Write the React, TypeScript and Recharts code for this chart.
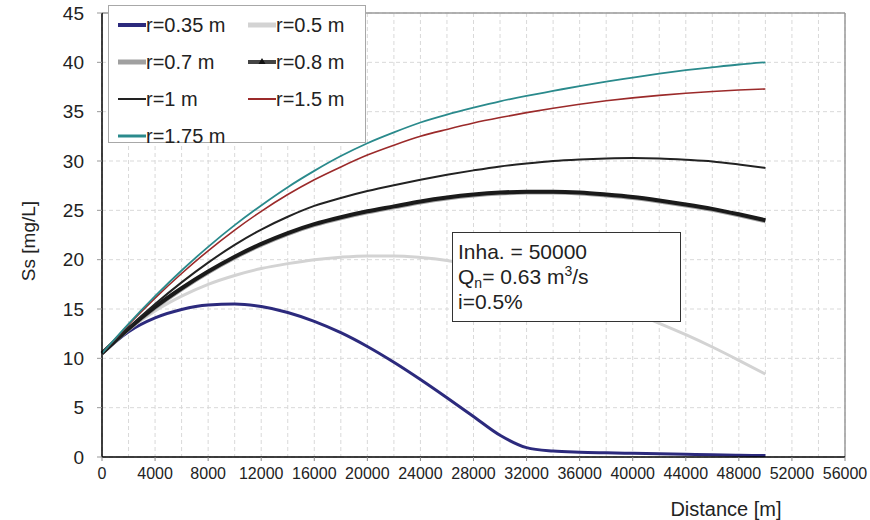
import React from "react";
import { LineChart, Line, XAxis, YAxis, CartesianGrid, ReferenceLine, Label } from "recharts";

const FONT = "'Liberation Sans', Arial, sans-serif";

// distance along the sewer [m]
const distance = [
  0, 2000, 4000, 6000, 8000, 10000, 12000, 14000, 16000, 18000, 20000, 22000, 24000,
  26000, 28000, 30000, 32000, 34000, 36000, 38000, 40000, 42000, 44000, 46000, 48000, 50000,
];

// suspended solids Ss [mg/L] per pipe radius
const ssR035 = [
  10.5, 12.7, 14.1, 14.95, 15.4, 15.5, 15.25, 14.65, 13.75, 12.6, 11.2, 9.6, 7.85,
  6.0, 4.1, 2.2, 0.95, 0.6, 0.48, 0.42, 0.37, 0.32, 0.27, 0.22, 0.18, 0.14,
];
const ssR05 = [
  10.5, 12.9, 14.8, 16.3, 17.5, 18.4, 19.1, 19.6, 20.0, 20.25, 20.38, 20.38, 20.22,
  19.92, 19.45, 18.85, 18.15, 17.4, 16.55, 15.65, 14.65, 13.55, 12.4, 11.15, 9.8, 8.4,
];
const ssR07 = [
  10.5, 12.95, 15.1, 17.0, 18.7, 20.2, 21.5, 22.6, 23.5, 24.2, 24.8, 25.3, 25.8,
  26.2, 26.5, 26.7, 26.8, 26.8, 26.7, 26.5, 26.25, 25.9, 25.5, 25.05, 24.5, 23.9,
];
const ssR08 = [
  10.5, 13.0, 15.2, 17.1, 18.8, 20.3, 21.6, 22.7, 23.6, 24.3, 24.9, 25.4, 25.9,
  26.3, 26.6, 26.8, 26.88, 26.88, 26.8, 26.6, 26.35, 26.0, 25.6, 25.15, 24.6, 24.0,
];
const ssR1 = [
  10.5, 13.1, 15.5, 17.7, 19.7, 21.5, 23.05, 24.35, 25.45, 26.25, 26.95, 27.55, 28.1,
  28.6, 29.05, 29.45, 29.75, 30.0, 30.15, 30.25, 30.3, 30.25, 30.12, 29.95, 29.65, 29.3,
];
const ssR15 = [
  10.5, 13.4, 16.1, 18.6, 20.9, 23.0, 24.9, 26.6, 28.1, 29.4, 30.6, 31.6, 32.5,
  33.2, 33.85, 34.4, 34.9, 35.35, 35.75, 36.1, 36.4, 36.65, 36.87, 37.05, 37.2, 37.3,
];
const ssR175 = [
  10.5, 13.5, 16.3, 18.9, 21.3, 23.5, 25.5, 27.35, 29.0, 30.5, 31.8, 32.9, 33.9,
  34.7, 35.4, 36.05, 36.6, 37.1, 37.6, 38.05, 38.45, 38.85, 39.2, 39.5, 39.78, 40.0,
];

const xTicks = [
  0, 2000, 4000, 6000, 8000, 10000, 12000, 14000, 16000, 18000, 20000, 22000, 24000, 26000,
  28000, 30000, 32000, 34000, 36000, 38000, 40000, 42000, 44000, 46000, 48000, 50000, 52000,
  54000, 56000,
];
const yTicks = [0, 5, 10, 15, 20, 25, 30, 35, 40, 45];

const series = [
  { key: "r035", name: "r=0.35 m", values: ssR035, color: "#2c2a7d", width: 3, legendWidth: 4 },
  { key: "r05", name: "r=0.5 m", values: ssR05, color: "#d3d3d3", width: 3, legendWidth: 5 },
  { key: "r07", name: "r=0.7 m", values: ssR07, color: "#a0a0a0", width: 4, legendWidth: 5 },
  { key: "r08", name: "r=0.8 m", values: ssR08, color: "#1a1a1a", width: 4, legendWidth: 4 },
  { key: "r1", name: "r=1 m", values: ssR1, color: "#222222", width: 2, legendWidth: 2 },
  { key: "r15", name: "r=1.5 m", values: ssR15, color: "#9b2a2a", width: 1.6, legendWidth: 2 },
  { key: "r175", name: "r=1.75 m", values: ssR175, color: "#2a8a8c", width: 1.8, legendWidth: 3 },
];

const rows = distance.map((d, i) => {
  const row: Record<string, number> = { d };
  series.forEach((s) => (row[s.key] = s.values[i]));
  return row;
});

function XTick({ x, y, payload }: any) {
  const v = payload.value;
  if (v % 4000 !== 0) return <g />;
  return (
    <g>
      <line x1={x} x2={x} y1={y} y2={y + 4} stroke="#888" />
      <text x={x} y={y + 22} textAnchor="middle" fontSize={16} fill="#222" fontFamily={FONT}>
        {v}
      </text>
    </g>
  );
}

function LegendBox() {
  return (
    <div
      style={{
        position: "absolute", left: 108, top: 5, width: 256, height: 136,
        background: "#fff", border: "1px solid #a8a8a8", fontFamily: FONT, fontSize: 20, color: "#222",
      }}
    >
      {series.map((s, i) => {
        const col = i % 2;
        const row = Math.floor(i / 2);
        const cy = 19 + row * 37;
        return (
          <div key={s.key} style={{ position: "absolute", left: col === 0 ? 9 : 139, top: cy - 12, height: 24, display: "flex", alignItems: "center" }}>
            <svg width={28} height={24}>
              <line x1={0} x2={28} y1={12} y2={12} stroke={s.key === "r08" ? "#444" : s.color} strokeWidth={s.legendWidth} />
              {s.key === "r08" && <polygon points="14,8 17.5,14 10.5,14" fill="#111" />}
            </svg>
            <span style={{ lineHeight: "24px", whiteSpace: "nowrap" }}>{s.name}</span>
          </div>
        );
      })}
    </div>
  );
}

function InfoBox() {
  return (
    <div
      style={{
        position: "absolute", left: 452, top: 232, width: 229, height: 90,
        background: "#fff", border: "1.5px solid #333", fontFamily: FONT, fontSize: 21, color: "#222",
        padding: "6px 0 0 5px", boxSizing: "border-box", lineHeight: "25px",
      }}
    >
      <div>Inha. = 50000</div>
      <div>
        Q<sub style={{ fontSize: 14, verticalAlign: "-4px", lineHeight: 0 }}>n</sub>= 0.63 m
        <sup style={{ fontSize: 14, verticalAlign: "8px", lineHeight: 0 }}>3</sup>/s
      </div>
      <div>i=0.5%</div>
    </div>
  );
}

export default function App() {
  return (
    <div style={{ position: "absolute", left: 0, top: 0, width: 870, height: 520, background: "#fff" }}>
      <LineChart width={870} height={520} data={rows} margin={{ top: 13, right: 25, bottom: 0, left: 0 }}>
        <CartesianGrid stroke="#d9d9d9" strokeDasharray="4 3" />
        <XAxis
          type="number"
          dataKey="d"
          domain={[0, 56000]}
          ticks={xTicks}
          interval={0}
          height={63}
          tickLine={false}
          tickSize={0}
          tickMargin={0}
          tick={<XTick />}
          axisLine={{ stroke: "#000", strokeWidth: 1.5 }}
        >
          <Label
            content={({ viewBox }: any) => (
              <text x={viewBox.x + viewBox.width - 119} y={viewBox.y + 59} textAnchor="middle" fontSize={20} fill="#222" fontFamily={FONT}>
                Distance [m]
              </text>
            )}
          />
        </XAxis>
        <YAxis
          type="number"
          domain={[0, 45]}
          ticks={yTicks}
          interval={0}
          width={102}
          tickSize={5}
          tickMargin={13}
          tickLine={{ stroke: "#999" }}
          tick={{ fontSize: 19, fill: "#222", fontFamily: FONT }}
          axisLine={{ stroke: "#000", strokeWidth: 1.5 }}
        >
          <Label
            content={({ viewBox }: any) => {
              const cx = viewBox.x + 28;
              const cy = viewBox.y + viewBox.height / 2 + 6;
              return (
                <text x={cx} y={cy} transform={`rotate(-90, ${cx}, ${cy})`} textAnchor="middle" dominantBaseline="central" fontSize={19} fill="#222" fontFamily={FONT}>
                  Ss [mg/L]
                </text>
              );
            }}
          />
        </YAxis>
        <ReferenceLine y={45} stroke="#9a9a9a" strokeWidth={1.5} />
        <ReferenceLine x={56000} stroke="#9a9a9a" strokeWidth={1.5} />
        {series.map((s) => (
          <Line
            key={s.key}
            type="monotone"
            dataKey={s.key}
            name={s.name}
            stroke={s.color}
            strokeWidth={s.width}
            dot={false}
            activeDot={false}
            isAnimationActive={false}
          />
        ))}
      </LineChart>
      <LegendBox />
      <InfoBox />
    </div>
  );
}
